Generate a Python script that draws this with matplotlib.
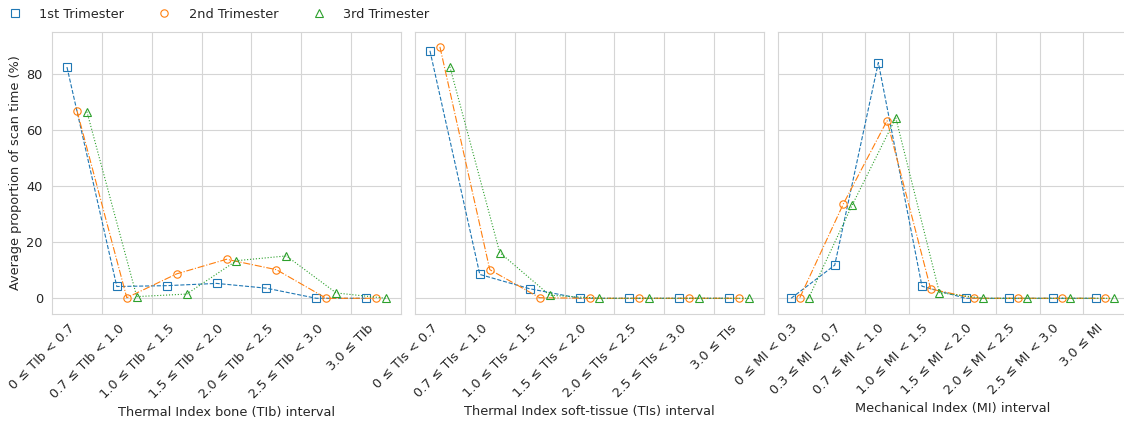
import matplotlib
matplotlib.use("Agg")
import matplotlib.pyplot as plt
import numpy as np
import seaborn as sns

sns.set_theme(style="whitegrid")
plt.rcParams['font.family'] = ['DejaVu Sans']

series_names = ["1st Trimester", "2nd Trimester", "3rd Trimester"]

tib_labels = ["0 ≤ TIb < 0.7", "0.7 ≤ TIb < 1.0", "1.0 ≤ TIb < 1.5", "1.5 ≤ TIb < 2.0",
              "2.0 ≤ TIb < 2.5", "2.5 ≤ TIb < 3.0", "3.0 ≤ TIb"]
tib_t1 = [82.4, 4.2, 4.5, 5.3, 3.6, 0.0, 0.0]
tib_t2 = [66.9, 0.2, 8.7, 13.9, 10.2, 0.0, 0.0]
tib_t3 = [66.5, 0.6, 1.5, 13.4, 15.1, 1.9, 0.0]

tis_labels = ["0 ≤ TIs < 0.7", "0.7 ≤ TIs < 1.0", "1.0 ≤ TIs < 1.5", "1.5 ≤ TIs < 2.0",
              "2.0 ≤ TIs < 2.5", "2.5 ≤ TIs < 3.0", "3.0 ≤ TIs"]
tis_t1 = [88.2, 8.5, 3.4, 0.0, 0.0, 0.0, 0.0]
tis_t2 = [89.6, 10.2, 0.2, 0.0, 0.0, 0.0, 0.0]
tis_t3 = [82.5, 16.3, 1.1, 0.0, 0.0, 0.0, 0.0]

mi_labels = ["0 ≤ MI < 0.3", "0.3 ≤ MI < 0.7", "0.7 ≤ MI < 1.0", "1.0 ≤ MI < 1.5",
             "1.5 ≤ MI < 2.0", "2.0 ≤ MI < 2.5", "2.5 ≤ MI < 3.0", "3.0 ≤ MI"]
mi_t1 = [0.0, 11.8, 84.0, 4.3, 0.0, 0.0, 0.0, 0.0]
mi_t2 = [0.2, 33.7, 63.3, 3.3, 0.0, 0.0, 0.0, 0.0]
mi_t3 = [0.0, 33.2, 64.3, 2.0, 0.0, 0.0, 0.0, 0.0]

xlabels = ["Thermal Index bone (TIb) interval",
           "Thermal Index soft-tissue (TIs) interval",
           "Mechanical Index (MI) interval"]

panels = [
    (tib_labels, [tib_t1, tib_t2, tib_t3]),
    (tis_labels, [tis_t1, tis_t2, tis_t3]),
    (mi_labels, [mi_t1, mi_t2, mi_t3]),
]

colors = ["#1f77b4", "#ff7f0e", "#2ca02c"]
markers = ["s", "o", "^"]
linestyles = ["--", "-.", ":"]
offsets = [-0.2, 0.0, 0.2]

FS = 9.3
fig = plt.figure(figsize=(11.24, 4.25), dpi=100)
W = 349 / 1124
lefts = [52 / 1124, 415 / 1124, 778 / 1124]
bottom = 1 - 314 / 425
height = (314 - 31.7) / 425
text_color = "#262626"

for p, (cats, vals) in enumerate(panels):
    ax = fig.add_axes([lefts[p], bottom, W, height])
    n = len(cats)
    centers = np.arange(n) + 0.5
    for k in range(3):
        ax.plot(centers + offsets[k], vals[k], linestyle=linestyles[k], color=colors[k],
                linewidth=0.8, marker=markers[k], markersize=5.3, markerfacecolor="none",
                markeredgecolor=colors[k], markeredgewidth=0.8, label=series_names[k])
    ax.set_xlim(0, n)
    ax.set_ylim(-5.6, 95)
    ax.set_xticks(np.arange(1, n))
    ax.set_xticklabels([])
    ax.set_xticks(centers, minor=True)
    ax.set_xticklabels(cats, minor=True, rotation=45, ha="right", fontsize=FS, color=text_color)
    ax.tick_params(axis="x", which="both", length=0, pad=5.5)
    ax.set_yticks([0, 20, 40, 60, 80])
    ax.tick_params(axis="y", labelsize=FS, colors=text_color, length=0, pad=6.5)
    if p > 0:
        ax.set_yticklabels([])
    else:
        ax.set_ylabel("Average proportion of scan time (%)", fontsize=FS, color=text_color,
                      labelpad=3)
    ax.set_xlabel(xlabels[p], fontsize=FS, color=text_color, labelpad=3.5)
    ax.grid(True, which="major", color="#d5d5d5", linewidth=0.8)
    for s in ax.spines.values():
        s.set_color("#d5d5d5")
        s.set_linewidth(0.8)

leg_handles = [plt.Line2D([], [], linestyle="none", marker=markers[k], markersize=5.3,
                          markerfacecolor="none", markeredgecolor=colors[k], markeredgewidth=0.8)
               for k in range(3)]
fig.legend(leg_handles, series_names, loc="center left", bbox_to_anchor=(0.0, 1 - 14 / 425),
           ncol=3, frameon=False, fontsize=FS, handletextpad=1.14, columnspacing=2.37,
           labelcolor=text_color, borderaxespad=0, handlelength=1.5)

fig.savefig("out.png", dpi=100)
